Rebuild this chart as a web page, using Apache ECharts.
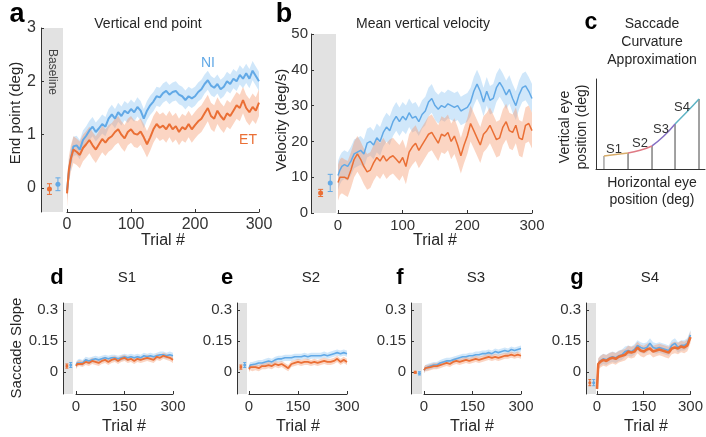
<!DOCTYPE html>
<html><head><meta charset="utf-8">
<script src="https://cdn.jsdelivr.net/npm/echarts@6/dist/echarts.min.js"></script>
<style>html,body{margin:0;padding:0;background:#fff}#c{width:706px;height:437px}</style>
</head><body><div id="c"></div>
<script>
// ---------- DATA ----------
const trialsAB = [0,3,6,10,15,20,25,30,35,40,45,50,55,60,65,70,75,80,85,90,95,100,105,110,115,120,125,130,135,140,145,150,155,160,165,170,175,180,185,190,195,200,205,210,215,220,225,230,235,240,245,250,255,260,265,270,275,280,285,290,295,300];
const endPointET = [-0.1,0.35,0.55,0.72, 0.68,0.62,0.75,0.82,0.9,0.8,0.72,0.82,0.92,0.85, 0.93,0.97,1.05,1.1,1.0,0.93,1.05,1.1,1.02,1.0, 1.06,0.95,0.82,0.95,1.1,1.2,1.13,1.17,1.1,1.2, 1.1,1.16,1.05,1.14,1.1,1.2,1.1,1.18,1.25,1.3, 1.4,1.5,1.35,1.3,1.45,1.35,1.28,1.4,1.35,1.45, 1.55,1.5,1.65,1.5,1.42,1.52,1.45,1.6];
const endPointNI = [-0.05,0.3,0.55,0.78, 0.8,0.72,0.9,0.98,1.08,1.15,1.05,1.12,1.2,1.15, 1.3,1.38,1.3,1.42,1.35,1.45,1.4,1.48,1.42,1.52, 1.45,1.3,1.45,1.55,1.62,1.72,1.7,1.78,1.82,1.75, 1.8,1.82,1.75,1.72,1.65,1.72,1.68,1.72,1.8,1.85, 1.95,2.02,1.92,1.88,1.95,1.85,1.9,2.0,1.95,2.05, 2.0,2.12,2.05,2.15,2.05,2.2,2.1,2.0];
const velocityET = [8.5,10,10.5,10, 9.5,12,15,16.5,15,13,11.5,12,14,15.5, 14.5,16,14.5,15.5,16,15,14,15.5,13,17, 18.5,19.5,17.5,19,20.5,22,22.5,21,19.5,22, 21.5,22.5,20,21.5,19,16,19,21.5,25,23, 21,19,22,23,24.5,22.5,20.5,21,24,25.5, 23,22.5,24.5,21,20.5,24.5,25,23];
const velocityNI = [10.5,12,13,13.5, 13,14.5,16.5,17,17.5,16.5,19.5,20,19,21, 20,22.5,24,23,25.5,27,25.5,27,26,28, 26.5,27,25.5,27.5,28.5,31,32,30,29,30, 29.5,30.5,30,29.5,30,28.5,29,29.5,31,34, 36,34,31,34,31.5,32,35,36.5,35,33, 34.5,32,30,33,35,35.5,34,32];
const semEndPoint = {ET: 0.25, NI: 0.18};
const semVelocity = {ET: 5, NI: 4};
const baseEndPoint = {ET: [-0.02, 0.1], NI: [0.07, 0.12]};
const baseVelocity = {ET: [5.6, 1.0], NI: [8.4, 2.4]};

const trialsS = [0,4,10,20,30,40,50,60,70,80,90,100,110,120,130,140,150,160,170,180,190,200,210,220,230,240,250,260,270,280,290,300];
const s1ET = [0.03,0.04, 0.045,0.04,0.05,0.045,0.055,0.05,0.045,0.055,0.06,0.05, 0.06,0.065,0.055,0.065,0.07,0.06,0.065,0.055,0.065,0.06, 0.065,0.07,0.065,0.06,0.075,0.07,0.08,0.075,0.07,0.06];
const s1NI = [0.035,0.045, 0.05,0.045,0.06,0.055,0.06,0.065,0.06,0.065,0.07,0.065, 0.07,0.07,0.065,0.07,0.075,0.07,0.075,0.07,0.075,0.07, 0.08,0.075,0.08,0.075,0.08,0.085,0.085,0.08,0.085,0.08];
const s2ET = [0.015,0.025, 0.02,0.025,0.02,0.03,0.03,0.035,0.03,0.04,0.035,0.04, 0.03,0.02,0.04,0.045,0.05,0.045,0.05,0.05,0.045,0.05, 0.045,0.05,0.055,0.05,0.05,0.055,0.065,0.05,0.06,0.05];
const s2NI = [0.02,0.035, 0.035,0.04,0.045,0.045,0.05,0.055,0.05,0.06,0.065,0.065, 0.07,0.07,0.07,0.075,0.075,0.075,0.08,0.075,0.08,0.08, 0.08,0.08,0.085,0.08,0.085,0.09,0.095,0.09,0.095,0.09];
const s3ET = [0.01,0.02, 0.02,0.025,0.03,0.03,0.035,0.04,0.045,0.04,0.05,0.055, 0.05,0.055,0.06,0.055,0.06,0.065,0.06,0.065,0.07,0.075, 0.07,0.075,0.07,0.075,0.08,0.08,0.085,0.08,0.085,0.08];
const s3NI = [0.01,0.02, 0.025,0.03,0.035,0.035,0.045,0.05,0.055,0.055,0.06,0.065, 0.07,0.075,0.075,0.08,0.08,0.085,0.085,0.09,0.09,0.095, 0.09,0.1,0.095,0.1,0.105,0.1,0.11,0.105,0.11,0.115];
const s4ET = [-0.08,0.04, 0.05,0.06,0.055,0.065,0.07,0.065,0.075,0.08,0.085,0.1, 0.095,0.1,0.12,0.105,0.1,0.11,0.115,0.1,0.105,0.11, 0.105,0.1,0.095,0.115,0.12,0.115,0.125,0.12,0.13,0.17];
const s4NI = [-0.08,0.04, 0.055,0.065,0.06,0.07,0.075,0.07,0.08,0.085,0.1,0.105, 0.1,0.11,0.13,0.12,0.115,0.12,0.14,0.12,0.115,0.12, 0.115,0.11,0.105,0.13,0.14,0.12,0.13,0.13,0.14,0.18];
const semSlope = {S1:[0.015,0.015], S2:[0.015,0.015], S3:[0.015,0.015], S4:[0.028,0.025]};
const baseSlope = {
  S1: {ET:[0.03,0.01], NI:[0.035,0.012]},
  S2: {ET:[0.025,0.01], NI:[0.035,0.012]},
  S3: {ET:[0.0,0.005], NI:[-0.005,0.008]},
  S4: {ET:[-0.05,0.015], NI:[-0.05,0.015]}
};
// schematic (panel c), axis units 0-100
const cKnotX = [7.3, 29.4, 51.4, 72.5, 94.5];
const cKnotY = [14.4, 17.8, 25.6, 50, 77.8];
const cMidX = [18, 40.5, 62, 83.5];
const cMidY = [16.1, 20.8, 36.3, 63.5];
const cSegLabels = ['S1','S2','S3','S4'];

// ---------- STYLE ----------
const FONT = "'Liberation Sans', Arial, sans-serif";
const C_ET = '#ea6f35', C_NI = '#62a9e6';
const B_ET = 'rgba(244,150,105,0.4)', B_NI = 'rgba(110,180,240,0.32)';
const AX = '#333';
const GRAY = '#e2e2e2';

const option = {animation:false, backgroundColor:'#fff', grid:[], xAxis:[], yAxis:[], series:[], graphic:[]};

function zip(t, v){ return t.map((x,i)=>[x, v[i]]); }

function addPanel(cfg){
  const gi = option.grid.length;
  option.grid.push({left:cfg.base[0], top:cfg.top, width:cfg.base[1], height:cfg.height, show:true, backgroundColor:GRAY, borderWidth:0});
  option.grid.push({left:cfg.main[0], top:cfg.top, width:cfg.main[1], height:cfg.height, show:false});
  option.xAxis.push({gridIndex:gi, type:'value', min:-1, max:1.6, show:false});
  option.yAxis.push({gridIndex:gi, type:'value', min:cfg.yMin, max:cfg.yMax,
    axisLine:{show:true, onZero:false, lineStyle:{color:AX, width:1}},
    axisTick:{show:true, inside:true, length:3, customValues:cfg.yTicks, lineStyle:{color:AX}},
    axisLabel:{show:true, customValues:cfg.yTicks, color:'#333', fontSize:cfg.fs, fontFamily:FONT, margin:cfg.ym},
    splitLine:{show:false}});
  option.xAxis.push({gridIndex:gi+1, type:'value', min:0, max:300, interval:cfg.xInt,
    axisLine:{show:true, onZero:false, lineStyle:{color:AX, width:1}},
    axisTick:{show:true, inside:true, length:3, lineStyle:{color:AX}},
    axisLabel:{color:'#333', fontSize:cfg.fs, fontFamily:FONT, margin:5, showMinLabel:true, showMaxLabel:true},
    splitLine:{show:false}});
  option.yAxis.push({gridIndex:gi+1, type:'value', min:cfg.yMin, max:cfg.yMax, show:false, splitLine:{show:false}});
  const xb = gi, xm = gi+1;
  [[cfg.ni, cfg.semNI, B_NI],[cfg.et, cfg.semET, B_ET]].forEach(([vals, sem, col])=>{
    option.series.push({type:'custom', xAxisIndex:xm, yAxisIndex:xm, silent:true, clip:true, z:1,
      data:[[150, (cfg.yMin+cfg.yMax)/2]],
      renderItem:function(params, api){
        const pts = [];
        for(let i=0;i<cfg.trials.length;i++) pts.push(api.coord([cfg.trials[i], vals[i]+sem]));
        for(let i=cfg.trials.length-1;i>=0;i--) pts.push(api.coord([cfg.trials[i], vals[i]-sem]));
        return {type:'polygon', shape:{points:pts}, style:{fill:col}};
      }});
  });
  [[cfg.ni, C_NI, cfg.lwNI || cfg.lw],[cfg.et, C_ET, cfg.lw]].forEach(([vals,col,w])=>{
    option.series.push({type:'line', xAxisIndex:xm, yAxisIndex:xm, data:zip(cfg.trials, vals), showSymbol:false, silent:true, z:3,
      lineStyle:{color:col, width:w}, clip:true});
  });
  const bd = [[0, cfg.baseVals.ET[0], cfg.baseVals.ET[1]], [1, cfg.baseVals.NI[0], cfg.baseVals.NI[1]]];
  option.series.push({type:'custom', xAxisIndex:xb, yAxisIndex:xb, silent:true, z:4, data:bd,
    renderItem:function(params, api){
      const col = params.dataIndex===0 ? C_ET : C_NI;
      const x = api.value(0), m = api.value(1), e = api.value(2);
      const p = api.coord([x,m]), hi = api.coord([x,m+e]), lo = api.coord([x,m-e]);
      const cw = cfg.cap;
      const st = {stroke:col, lineWidth:1};
      return {type:'group', children:[
        {type:'line', shape:{x1:p[0],y1:hi[1],x2:p[0],y2:lo[1]}, style:st},
        {type:'line', shape:{x1:p[0]-cw,y1:hi[1],x2:p[0]+cw,y2:hi[1]}, style:st},
        {type:'line', shape:{x1:p[0]-cw,y1:lo[1],x2:p[0]+cw,y2:lo[1]}, style:st},
        {type:'circle', shape:{cx:p[0], cy:p[1], r:cfg.dot}, style:{fill:col}}
      ]};
    }});
}

addPanel({base:[41,22], main:[67,192], top:28, height:184, yMin:-0.45, yMax:3, yTicks:[0,1,2,3], xInt:100, fs:16, ym:5,
  trials:trialsAB, et:endPointET, ni:endPointNI, semET:semEndPoint.ET, semNI:semEndPoint.NI, lw:2, baseVals:baseEndPoint, cap:2.5, dot:2.5});
addPanel({base:[311,25], main:[338,194], top:34, height:179, yMin:0, yMax:50, yTicks:[0,10,20,30,40,50], xInt:100, fs:15, ym:3,
  trials:trialsAB, et:velocityET, ni:velocityNI, semET:semVelocity.ET, semNI:semVelocity.NI, lw:1.5, baseVals:baseVelocity, cap:2.5, dot:2.5});
const slopePanels = [
  {key:'S1', base:[63,10], main:[76,97], et:s1ET, ni:s1NI, lw:1.8},
  {key:'S2', base:[237,10], main:[249,98], et:s2ET, ni:s2NI, lw:1.8},
  {key:'S3', base:[411,11], main:[424,97], et:s3ET, ni:s3NI, lw:1.8},
  {key:'S4', base:[586,10], main:[597,97], et:s4ET, ni:s4NI, lw:2.6}
];
slopePanels.forEach(p=>{
  addPanel({base:p.base, main:p.main, top:303, height:91, yMin:-0.105, yMax:0.335, yTicks:[0,0.15,0.3], xInt:150, fs:15, ym:5,
    trials:trialsS, et:p.et, ni:p.ni, semET:semSlope[p.key][0], semNI:semSlope[p.key][1], lw:p.lw, lwNI:1.6, baseVals:baseSlope[p.key], cap:1.5, dot:1.5});
});

// Panel c schematic
const gc = option.grid.length;
option.grid.push({left:596, top:79, width:109, height:90, show:false});
option.xAxis.push({gridIndex:gc, type:'value', min:0, max:100, axisLine:{show:true, onZero:false, lineStyle:{color:AX}}, axisTick:{show:false}, axisLabel:{show:false}, splitLine:{show:false}});
option.yAxis.push({gridIndex:gc, type:'value', min:0, max:100, axisLine:{show:true, onZero:false, lineStyle:{color:AX}}, axisTick:{show:false}, axisLabel:{show:false}, splitLine:{show:false}});
const segColors = ['#d8ad6a', '#df7a84', '#8570c4', '#5eb3c4'];
for(let i=0;i<4;i++){
  option.series.push({type:'line', xAxisIndex:gc, yAxisIndex:gc, smooth:true, showSymbol:false, silent:true, z:3,
    data:[[cKnotX[i],cKnotY[i]],[cMidX[i],cMidY[i]],[cKnotX[i+1],cKnotY[i+1]]],
    lineStyle:{color:segColors[i], width:1.5}});
}
for(let i=0;i<cKnotX.length;i++){
  option.series.push({type:'line', xAxisIndex:gc, yAxisIndex:gc, showSymbol:false, silent:true, z:2,
    data:[[cKnotX[i],0],[cKnotX[i],cKnotY[i]]], lineStyle:{color: i===0 ? '#777' : '#444', width:1}});
}

// ---------- TEXT ----------
function txt(x,y,s,o){
  option.graphic.push(Object.assign({type:'text', x:x, y:y, silent:true, z:10,
    style:Object.assign({text:s, fill:'#262626', font:'14px '+FONT, textAlign:'center', textVerticalAlign:'middle'}, o&&o.style||{})}, o&&o.el||{}));
}
const bold = (n)=>({style:{font:'bold '+n+'px '+FONT, fill:'#000'}});
txt(17,15,'a',bold(27));
txt(284,15,'b',bold(27));
txt(591,23,'c',bold(23));
txt(57,278,'d',bold(22));
txt(227,278,'e',bold(22));
txt(400,278,'f',bold(22));
txt(577,278,'g',bold(22));

txt(148,24,'Vertical end point');
txt(423,24,'Mean vertical velocity');
txt(652,24,'Saccade');
txt(652,42,'Curvature');
txt(652,60,'Approximation');
txt(127,278,'S1',{style:{font:'15px '+FONT}});
txt(311,278,'S2',{style:{font:'15px '+FONT}});
txt(476,278,'S3',{style:{font:'15px '+FONT}});
txt(650,278,'S4',{style:{font:'15px '+FONT}});

txt(163,241,'Trial #',{style:{font:'16px '+FONT}});
txt(435,241,'Trial #',{style:{font:'16px '+FONT}});
[124,298,472,646].forEach(x=>txt(x,427,'Trial #',{style:{font:'16px '+FONT}}));
txt(16,113,'End point (deg)',{el:{rotation:Math.PI/2}, style:{font:'15px '+FONT}});
txt(282,120,'Velocity (deg/s)',{el:{rotation:Math.PI/2}, style:{font:'15px '+FONT}});
txt(17,348,'Saccade Slope',{el:{rotation:Math.PI/2}, style:{font:'15px '+FONT}});
txt(565,127,'Vertical eye',{el:{rotation:Math.PI/2}, style:{font:'14px '+FONT}});
txt(582,127,'position (deg)',{el:{rotation:Math.PI/2}, style:{font:'14px '+FONT}});
txt(652,183,'Horizontal eye',{style:{font:'14px '+FONT}});
txt(652,200,'position (deg)',{style:{font:'14px '+FONT}});
txt(52,72,'Baseline',{el:{rotation:-Math.PI/2}, style:{font:'12px '+FONT, fill:'#444'}});
txt(208,63,'NI',{style:{font:'14px '+FONT, fill:C_NI}});
txt(248,140,'ET',{style:{font:'14px '+FONT, fill:C_ET}});
const sLabelPos = [[614,149],[640,143],[661,129],[682,107]];
cSegLabels.forEach((s,i)=>txt(sLabelPos[i][0], sLabelPos[i][1], s, {style:{font:'13px '+FONT, fill:'#333'}}));

const chart = echarts.init(document.getElementById('c'), null, {renderer:'canvas'});
chart.setOption(option);
</script></body></html>
